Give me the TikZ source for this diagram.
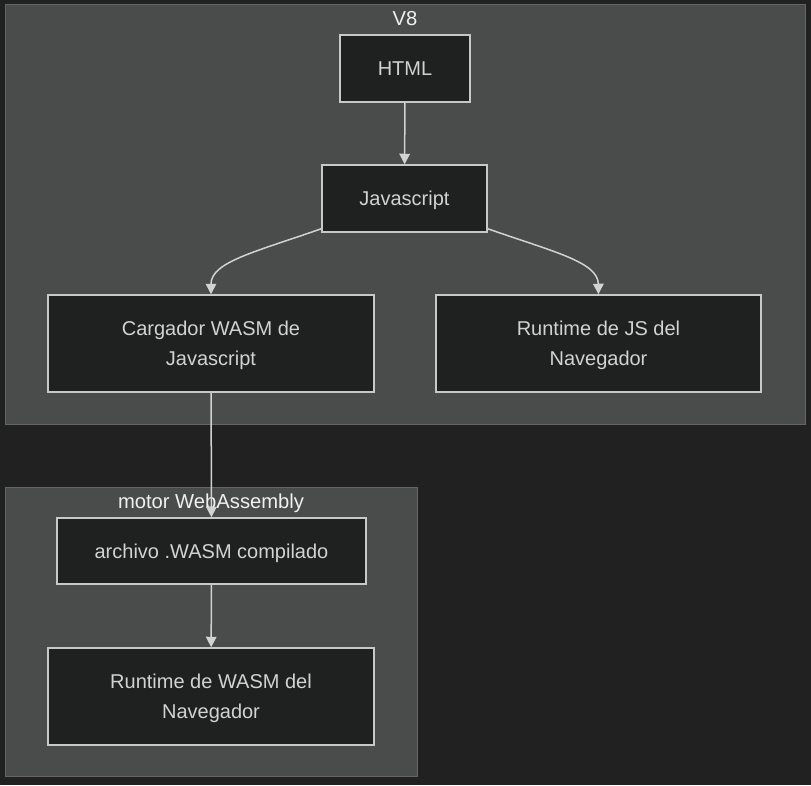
\documentclass[tikz,border=0pt]{standalone}
\usepackage{fontspec}
\setmainfont{Liberation Sans}
\usetikzlibrary{arrows.meta}
\definecolor{bgc}{RGB}{33,33,33}
\definecolor{clfill}{RGB}{74,75,75}
\definecolor{cldraw}{RGB}{100,101,101}
\definecolor{ndfill}{RGB}{31,32,32}
\definecolor{nddraw}{RGB}{200,200,200}
\definecolor{ndtext}{RGB}{210,210,210}
\definecolor{tltext}{RGB}{240,240,240}
\definecolor{edgec}{RGB}{210,210,210}
\tikzset{
  cluster/.style={fill=clfill,draw=cldraw,line width=1pt},
  box/.style={draw=nddraw,fill=ndfill,line width=1.5pt,text=ndtext,align=center,inner sep=0pt,
    text depth=0pt,font=\fontsize{20}{30}\selectfont},
  title/.style={text=tltext,inner sep=0pt,text depth=0pt,font=\fontsize{20.2}{24}\selectfont},
  edge/.style={draw=edgec,line width=1.5pt,-{Triangle[width=10.5pt,length=10.5pt]}}
}
\begin{document}
\begin{tikzpicture}[x=1pt,y=-1pt]
\fill[bgc] (0,0) rectangle (811,785);
\useasboundingbox (0,0) rectangle (811,785);
\draw[cluster] (5,4) rectangle (805,424);
\draw[cluster] (5,487) rectangle (417,776);
\node[title] (tv8) at (405,18) {V8};
\node[title] (tmw) at (211,501) {motor WebAssembly};
\node[box,minimum width=130pt,minimum height=67pt] (html) at (405,68.5) {HTML};
\node[box,minimum width=165pt,minimum height=67pt] (js) at (404.5,198.5) {Javascript};
\node[box,minimum width=326pt,minimum height=97pt] (cg) at (211,343.5) {Cargador WASM de\\Javascript};
\node[box,minimum width=325pt,minimum height=97pt] (rt) at (598.5,343.5) {Runtime de JS del\\Navegador};
\node[box,minimum width=309pt,minimum height=66pt] (wf) at (211.5,551) {archivo .WASM compilado};
\node[box,minimum width=326pt,minimum height=97pt] (rw) at (211,696.5) {Runtime de WASM del\\Navegador};
\draw[edge] (html) -- (js);
\draw[edge] ([yshift=4pt]js.south west) .. controls (255,252) and (211,262) .. (cg.north);
\draw[edge] ([yshift=4pt]js.south east) .. controls (554,252) and (598,262) .. (rt.north);
\draw[edge] (cg) -- (wf);
\draw[edge] (wf) -- (rw);
\end{tikzpicture}
\end{document}
